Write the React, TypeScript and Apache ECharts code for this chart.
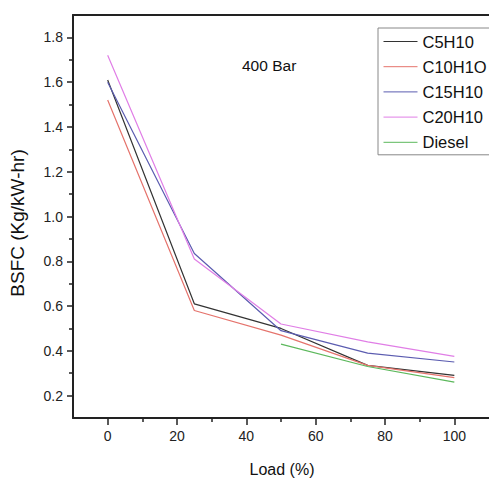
import React, { useEffect, useRef } from "react";
import * as echarts from "echarts";

const loads = [0, 25, 50, 75, 100];
const dieselLoads = [50, 75, 100];
const c5h10 = [1.61, 0.61, 0.5, 0.335, 0.29];
const c10h1o = [1.52, 0.58, 0.47, 0.335, 0.28];
const c15h10 = [1.6, 0.835, 0.49, 0.39, 0.35];
const c20h10 = [1.72, 0.81, 0.52, 0.44, 0.375];
const diesel = [0.43, 0.33, 0.26];

const xMajor = [0, 20, 40, 60, 80, 100];
const xMinor = [10, 30, 50, 70, 90];
const yMajor = [0.2, 0.4, 0.6, 0.8, 1.0, 1.2, 1.4, 1.6, 1.8];
const yMinor = [0.3, 0.5, 0.7, 0.9, 1.1, 1.3, 1.5, 1.7];

const seriesNames = ["C5H10", "C10H1O", "C15H10", "C20H10", "Diesel"];
const colors = ["#333333", "#e5736c", "#5b5cb0", "#e07ee6", "#5cb85c"];

const FONT = "'Liberation Sans', Arial, sans-serif";

export default function App() {
  const ref = useRef<HTMLDivElement>(null);
  useEffect(() => {
    if (!ref.current) return;
    const chart = echarts.init(ref.current, null, { renderer: "svg" });
    const pair = (xs: number[], ys: number[]) => xs.map((x, i) => [x, ys[i]]);
    const datasets = [
      pair(loads, c5h10),
      pair(loads, c10h1o),
      pair(loads, c15h10),
      pair(loads, c20h10),
      pair(dieselLoads, diesel),
    ];
    const axisLine = { show: true, onZero: false, lineStyle: { color: "#222", width: 2 } };
    const tickStyle = { color: "#222", width: 1.5 };
    chart.setOption({
      animation: false,
      grid: {
        left: 73,
        top: 15,
        right: 0,
        bottom: 60,
        show: false,
      },
      xAxis: [
        {
          type: "value",
          min: -10,
          max: 110,
          position: "bottom",
          axisLine,
          splitLine: { show: false },
          axisTick: {
            show: true,
            inside: false,
            length: 7,
            customValues: xMajor,
            lineStyle: tickStyle,
          },
          axisLabel: {
            customValues: xMajor,
            margin: 11,
            fontSize: 14,
            fontFamily: FONT,
            color: "#222",
          },
        },
        {
          type: "value",
          min: -10,
          max: 110,
          position: "bottom",
          offset: 0,
          axisLine: { show: false, onZero: false },
          splitLine: { show: false },
          axisTick: {
            show: true,
            length: 4,
            customValues: xMinor,
            lineStyle: tickStyle,
          },
          axisLabel: { show: false },
        },
        {
          type: "value",
          min: -10,
          max: 110,
          position: "top",
          offset: 0,
          axisLine,
          splitLine: { show: false },
          axisTick: { show: false },
          axisLabel: { show: false },
        },
      ],
      yAxis: [
        {
          type: "value",
          min: 0.1,
          max: 1.9,
          position: "left",
          axisLine,
          splitLine: { show: false },
          axisTick: {
            show: true,
            length: 6,
            customValues: yMajor,
            lineStyle: tickStyle,
          },
          axisLabel: {
            customValues: yMajor,
            margin: 10,
            fontSize: 14,
            fontFamily: FONT,
            color: "#222",
            formatter: (v: number) => v.toFixed(1),
          },
        },
        {
          type: "value",
          min: 0.1,
          max: 1.9,
          position: "left",
          offset: 0,
          axisLine: { show: false, onZero: false },
          splitLine: { show: false },
          axisTick: {
            show: true,
            length: 4,
            customValues: yMinor,
            lineStyle: tickStyle,
          },
          axisLabel: { show: false },
        },
      ],
      legend: {
        orient: "vertical",
        left: 378,
        top: 28,
        padding: [5, 5, 4, 5],
        itemGap: 8.2,
        itemWidth: 34,
        itemHeight: 14,
        itemStyle: { opacity: 0 },
        lineStyle: { width: 1 },
        borderColor: "#888",
        borderWidth: 1,
        backgroundColor: "#fff",
        textStyle: { fontSize: 16.5, fontFamily: FONT, color: "#111" },
        data: seriesNames,
      },
      series: seriesNames.map((name, i) => ({
        name,
        type: "line",
        xAxisIndex: 0,
        yAxisIndex: 0,
        data: datasets[i],
        symbol: "none",
        color: colors[i],
        lineStyle: { color: colors[i], width: 1.2 },
      })),
      graphic: [
        {
          type: "text",
          left: 242,
          top: 57,
          style: { text: "400 Bar", font: `15.5px ${FONT}`, fill: "#111" },
        },
        {
          type: "text",
          x: 282,
          y: 469,
          style: {
            text: "Load (%)",
            font: `16px ${FONT}`,
            fill: "#111",
            align: "center",
            verticalAlign: "middle",
          },
        },
        {
          type: "text",
          x: 17,
          y: 223,
          rotation: Math.PI / 2,
          style: {
            text: "BSFC (Kg/kW-hr)",
            font: `19px ${FONT}`,
            fill: "#111",
            align: "center",
            verticalAlign: "middle",
          },
        },
      ],
    });
    return () => chart.dispose();
  }, []);
  return (
    <div
      ref={ref}
      style={{ position: "fixed", left: 0, top: 0, width: 489, height: 478, background: "#fff" }}
    />
  );
}
